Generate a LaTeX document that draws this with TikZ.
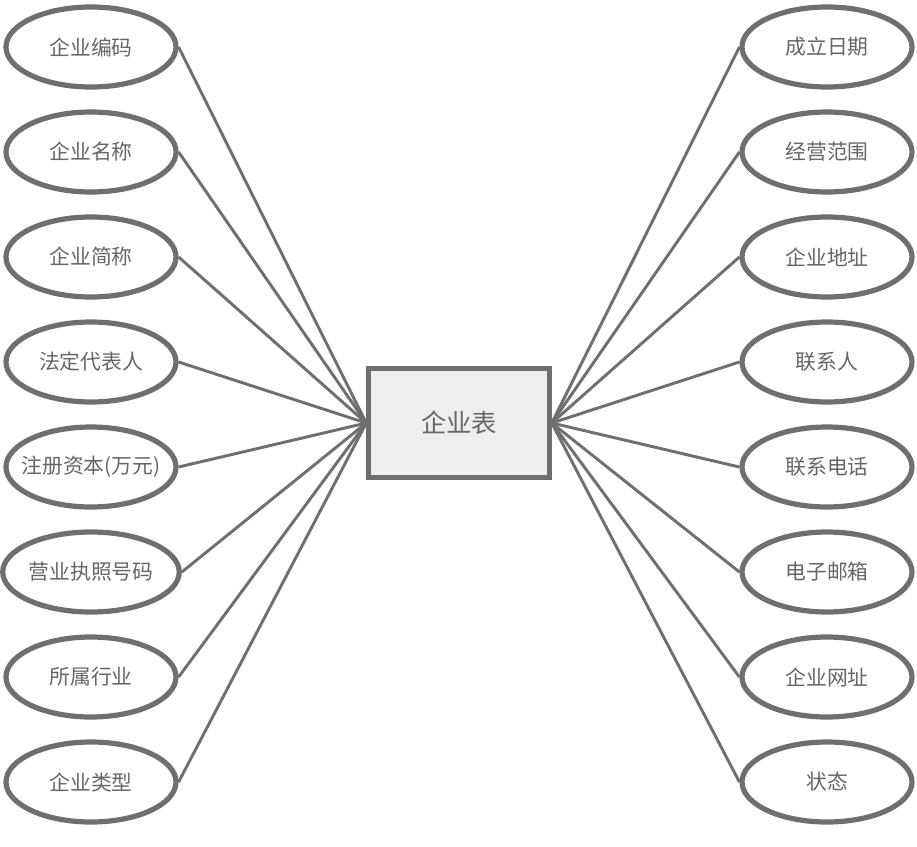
\documentclass[tikz,border=0pt]{standalone}
\usepackage{fontspec}
\setmainfont{Noto Sans CJK SC}
\usetikzlibrary{shapes.geometric}
\definecolor{linegray}{HTML}{6F6F6F}
\definecolor{textgray}{HTML}{666666}
\definecolor{boxfill}{HTML}{EEEEEE}

\begin{document}
\begin{tikzpicture}[
    x=0.75pt, y=-0.75pt,
    every node/.style={font=\fontsize{15.6pt}{18pt}\selectfont, text=textgray},
    attr/.style={ellipse, draw=linegray, line width=3.9pt, fill=white, minimum width=127.5pt, minimum height=60pt, inner sep=0pt},
    entity/.style={rectangle, draw=linegray, line width=3.4pt, fill=boxfill, minimum width=135.75pt, minimum height=81.75pt, font=\fontsize{19pt}{22pt}\selectfont},
    link/.style={draw=linegray, line width=2.2pt},
]
\useasboundingbox (0,0) rectangle (917,846);

% Entity
\node[entity] (tab) at (459,423) {企业表};

% Left attributes
\node[attr] (code)  at (91,47)  {企业编码};
\node[attr] (name)  at (91,152) {企业名称};
\node[attr] (short) at (91,257) {企业简称};
\node[attr] (legal) at (91,362) {法定代表人};
\node[attr] (cap)   at (91,467) {\makebox[0pt]{注册资本(万元)}};
\node[attr] (lic)   at (91,572) {营业执照号码};
\node[attr] (ind)   at (91,677) {所属行业};
\node[attr] (kind)  at (91,782) {企业类型};

% Right attributes
\node[attr] (date)  at (827,47)  {成立日期};
\node[attr] (scope) at (827,152) {经营范围};
\node[attr] (addr)  at (827,257) {企业地址};
\node[attr] (cont)  at (827,362) {联系人};
\node[attr] (tel)   at (827,467) {联系电话};
\node[attr] (mail)  at (827,572) {电子邮箱};
\node[attr] (web)   at (827,677) {企业网址};
\node[attr] (stat)  at (827,782) {状态};

% Links
\draw[link] (code.east)  -- (tab.west);
\draw[link] (name.east)  -- (tab.west);
\draw[link] (short.east) -- (tab.west);
\draw[link] (legal.east) -- (tab.west);
\draw[link] (cap.east)   -- (tab.west);
\draw[link] (lic.east)   -- (tab.west);
\draw[link] (ind.east)   -- (tab.west);
\draw[link] (kind.east)  -- (tab.west);
\draw[link] (date.west)  -- (tab.east);
\draw[link] (scope.west) -- (tab.east);
\draw[link] (addr.west)  -- (tab.east);
\draw[link] (cont.west)  -- (tab.east);
\draw[link] (tel.west)   -- (tab.east);
\draw[link] (mail.west)  -- (tab.east);
\draw[link] (web.west)   -- (tab.east);
\draw[link] (stat.west)  -- (tab.east);

\end{tikzpicture}
\end{document}
